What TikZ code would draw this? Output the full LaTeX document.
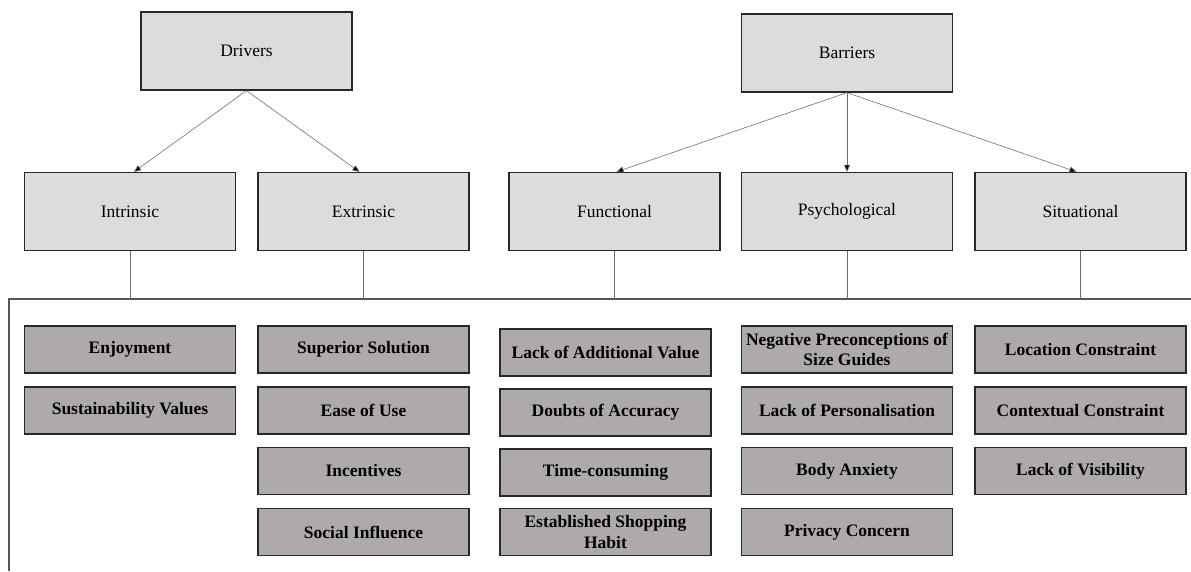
\documentclass[tikz,border=0pt]{standalone}
\usepackage{fontspec}
\setmainfont{Liberation Serif}
\usetikzlibrary{arrows.meta}
\definecolor{topfill}{RGB}{220,220,220}
\definecolor{botfill}{RGB}{174,170,169}
\definecolor{edge}{RGB}{40,40,40}
\definecolor{conn}{RGB}{110,110,110}
\definecolor{framec}{RGB}{85,85,85}
\tikzset{
  topbox/.style={draw=edge, line width=1.3pt, fill=topfill, minimum width=211pt, minimum height=78pt, inner sep=0pt, align=center, font=\fontsize{17.5}{20.5}\selectfont},
  itembox/.style={draw=edge, line width=1.3pt, fill=botfill, minimum width=211pt, minimum height=47pt, inner sep=0pt, align=center, font=\fontsize{17.5}{20.5}\selectfont\bfseries},
  arr/.style={draw=conn, line width=0.6pt, -{Triangle[length=7pt,width=6pt,fill=black]}},
  conline/.style={draw=conn, line width=0.6pt},
  frameline/.style={draw=framec, line width=1.5pt}
}
\begin{document}
\begin{tikzpicture}[x=1pt,y=-1pt]
\useasboundingbox (0,0) rectangle (1191,571);
% top level
\node[topbox] (drv) at (246.5,51) {Drivers};
\node[topbox] (bar) at (847,53) {Barriers};
% second level
\node[topbox] (intr) at (130,211.5) {Intrinsic};
\node[topbox] (extr) at (363.5,211.5) {Extrinsic};
\node[topbox] (func) at (614.5,211.5) {Functional};
\node[topbox] (psy) at (847,211.5) {Psychological};
\node[topbox] (sit) at (1080.5,211.5) {Situational};
% arrows
\draw[arr] (drv.south) -- ([xshift=4pt]intr.north);
\draw[arr] (drv.south) -- ([xshift=-4pt]extr.north);
\draw[arr] (bar.south) -- ([xshift=2pt]func.north);
\draw[arr] (bar.south) -- (psy.north);
\draw[arr] (bar.south) -- ([xshift=-4pt]sit.north);
% frame
\coordinate (ftl) at (9,299);
\coordinate (ftr) at (1191,299);
\coordinate (fbl) at (9,571);
\draw[frameline] (fbl) -- (ftl) -- (ftr);
% vertical connectors
\foreach \n in {intr,extr,func,psy,sit}{
  \draw[conline] (\n.south) -- (\n.south |- ftl);
}
% column 1
\node[itembox] (enj) at (130,349.5) {Enjoyment};
\node[itembox] (sus) at (130,410.5) {Sustainability Values};
% column 2
\node[itembox] (sup) at (363.5,349.5) {Superior Solution};
\node[itembox] (ease) at (363.5,410.5) {Ease of Use};
\node[itembox] (inc) at (363.5,471) {Incentives};
\node[itembox] (soc) at (363.5,532) {Social Influence};
% column 3
\node[itembox] (lav) at (605.5,352.5) {Lack of Additional Value};
\node[itembox] (doa) at (605.5,412.5) {Doubts of Accuracy};
\node[itembox] (tc) at (605.5,472.5) {Time-consuming};
\node[itembox] (esh) at (605.5,532) {Established Shopping\\Habit};
% column 4
\node[itembox] (neg) at (847,349.5) {Negative Preconceptions of\\Size Guides};
\node[itembox] (lop) at (847,410.5) {Lack of Personalisation};
\node[itembox] (ba) at (847,471) {Body Anxiety};
\node[itembox] (pc) at (847,532) {Privacy Concern};
% column 5
\node[itembox] (loc) at (1080.5,349.5) {Location Constraint};
\node[itembox] (ctx) at (1080.5,410.5) {Contextual Constraint};
\node[itembox] (lovis) at (1080.5,471) {Lack of Visibility};
\end{tikzpicture}
\end{document}
